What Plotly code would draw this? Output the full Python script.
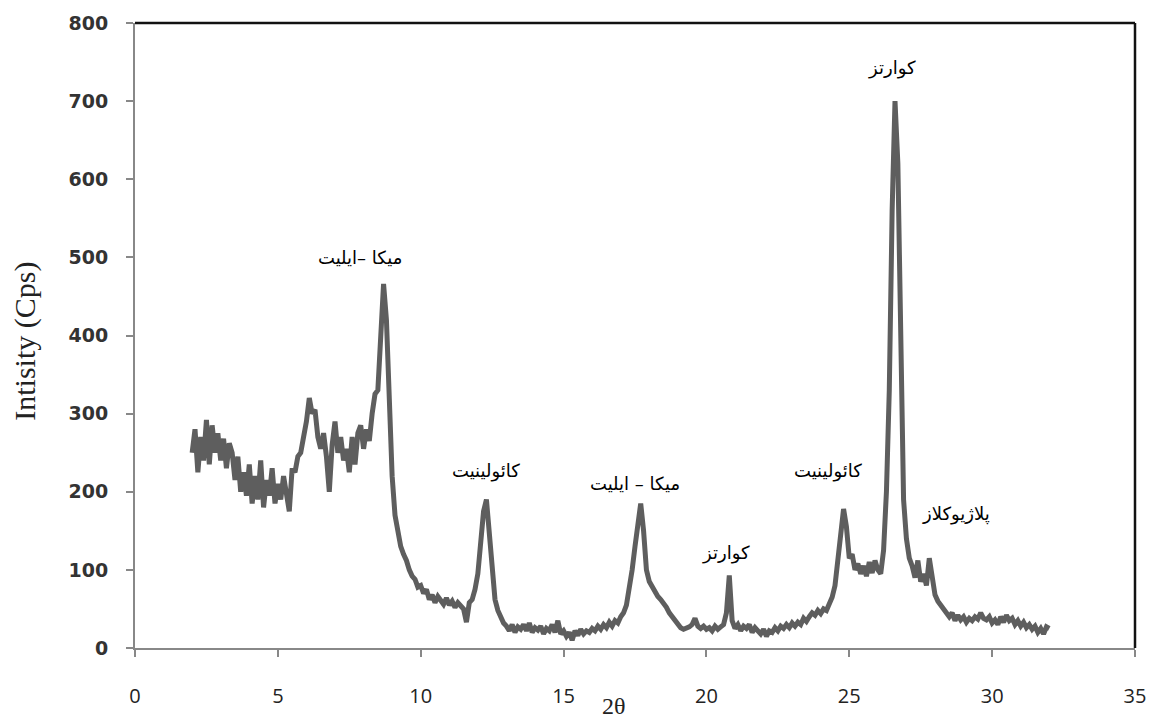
import plotly.graph_objects as go

# XRD scan: 2-theta from 2.0 to 32.0 in 0.1 steps
two_theta_start = 2.0
two_theta_step = 0.1
intensity = [
    250, 280, 225, 270, 240, 292, 235, 285, 250, 275,   # 2.0-2.9
    240, 268, 230, 262, 250, 215, 245, 200, 225, 195,   # 3.0-3.9
    235, 185, 220, 190, 240, 180, 215, 195, 230, 185,   # 4.0-4.9
    210, 190, 220, 195, 175, 230, 225, 245, 250, 270,   # 5.0-5.9
    290, 320, 300, 305, 270, 255, 275, 245, 200, 260,   # 6.0-6.9
    290, 250, 270, 240, 255, 225, 270, 235, 275, 285,   # 7.0-7.9
    255, 280, 265, 300, 325, 330, 415, 466, 420, 330,   # 8.0-8.9
    220, 170, 145, 130, 120, 112, 100, 92, 88, 78,      # 9.0-9.9
    80, 70, 75, 62, 68, 58, 66, 60, 56, 64,             # 10.0-10.9
    55, 60, 52, 58, 55, 50, 33, 58, 62, 75,             # 11.0-11.9
    95, 135, 175, 190, 150, 100, 62, 48, 40, 32,        # 12.0-12.9
    28, 22, 30, 20, 27, 24, 30, 22, 32, 20,             # 13.0-13.9
    26, 23, 28, 18, 25, 22, 30, 20, 35, 18,             # 14.0-14.9
    22, 15, 20, 10, 22, 16, 24, 18, 22, 20,             # 15.0-15.9
    25, 22, 28, 24, 30, 26, 33, 28, 35, 32,             # 16.0-16.9
    40, 45, 55, 75, 100, 130, 165, 185, 150, 100,       # 17.0-17.9
    85, 78, 72, 66, 62, 58, 52, 45, 40, 35,             # 18.0-18.9
    30, 26, 24, 25, 27, 30, 38, 28, 25, 28,             # 19.0-19.9
    24, 26, 22, 28, 24, 27, 30, 45, 93, 35,             # 20.0-20.9
    25, 30, 22, 28, 25, 30, 20, 26, 22, 18,             # 21.0-21.9
    24, 15, 22, 20, 26, 22, 28, 25, 30, 26,             # 22.0-22.9
    32, 28, 33, 30, 38, 34, 40, 45, 42, 48,             # 23.0-23.9
    44, 50, 48, 58, 65, 80, 110, 140, 178, 155,         # 24.0-24.9
    115, 120, 100, 108, 95, 105, 92, 110, 96, 112,      # 25.0-25.9
    100, 95, 125, 200, 330, 560, 700, 620, 360, 190,    # 26.0-26.9
    140, 115, 105, 90, 112, 85, 95, 80, 115, 90,        # 27.0-27.9
    68, 60, 55, 52, 45, 40, 45, 35, 42, 36,             # 28.0-28.9
    40, 33, 38, 35, 40, 37, 45, 38, 36, 40,             # 29.0-29.9
    32, 36, 30, 40, 33, 42, 35, 38, 30, 35,             # 30.0-30.9
    28, 33, 26, 30, 24, 28, 20, 25, 18, 27,             # 31.0-31.9
    25,                                                 # 32.0
]
two_theta = [round(two_theta_start + two_theta_step * i, 2) for i in range(len(intensity))]

# Peak labels
label_text = ["میکا –ایلیت", "کائولینیت", "میکا – ایلیت", "کوارتز", "کائولینیت", "کوارتز", "پلاژیوکلاز"]
label_x = [7.86, 12.3, 17.5, 20.68, 24.24, 26.5, 28.75]
label_y = [500, 227, 210, 121, 227, 742, 172]

x_ticks = [0, 5, 10, 15, 20, 25, 30, 35]
y_ticks = [0, 100, 200, 300, 400, 500, 600, 700, 800]

fig = go.Figure()
fig.add_trace(go.Scatter(
    x=two_theta, y=intensity, mode="lines",
    line=dict(color="#5e5e5e", width=5),
    showlegend=False, hoverinfo="skip",
))

for t, lx, ly in zip(label_text, label_x, label_y):
    fig.add_annotation(x=lx, y=ly, text=t, showarrow=False,
                       font=dict(family="DejaVu Sans", size=18, color="#000000"))

# y title and x title
fig.add_annotation(xref="paper", yref="paper", x=-0.11, y=0.49, text="Intisity (Cps)",
                   textangle=-90, showarrow=False, xanchor="center", yanchor="middle",
                   font=dict(family="Liberation Serif", size=30, color="#222222"))
fig.add_annotation(xref="paper", yref="paper", x=0.479, y=-0.092, text="2θ",
                   showarrow=False, xanchor="center", yanchor="middle",
                   font=dict(family="Liberation Serif", size=24, color="#222222"))

# top and right border (black)
fig.add_shape(type="line", xref="paper", yref="paper", x0=0, x1=1, y0=1, y1=1,
              line=dict(color="#111111", width=2.5))
fig.add_shape(type="line", xref="paper", yref="paper", x0=1, x1=1, y0=0, y1=1,
              line=dict(color="#111111", width=2.5))

fig.update_layout(
    width=1158, height=723,
    margin=dict(l=135, r=21, t=22, b=75),
    paper_bgcolor="white", plot_bgcolor="white",
    xaxis=dict(range=[0, 35], tickvals=x_ticks, ticks="outside", ticklen=7,
               tickcolor="#888888", tickwidth=2, showgrid=False, zeroline=False,
               showline=True, linecolor="#888888", linewidth=2,
               tickfont=dict(family="Open Sans", size=20, color="#222222"),
               ticklabelstandoff=22),
    yaxis=dict(range=[0, 800], tickvals=y_ticks, ticks="outside", ticklen=7,
               tickcolor="#888888", tickwidth=2, showgrid=False, zeroline=False,
               showline=True, linecolor="#888888", linewidth=2,
               tickfont=dict(family="DejaVu Sans", size=19, color="#333333", weight="bold"),
               ticklabelstandoff=14),
)

fig.write_html("out.html")
